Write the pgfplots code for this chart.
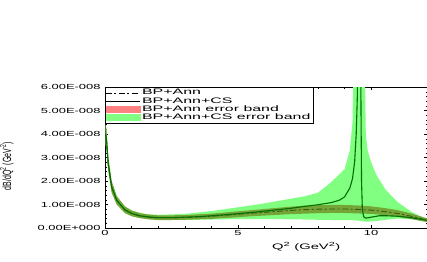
\documentclass[border=0pt]{standalone}
\usepackage{fontspec}
\usepackage{pgfplots}
\pgfplotsset{compat=1.18}
\usepackage{pgfplotstable}
\usepgfplotslibrary{fillbetween}
\newfontfamily\tickfont{Liberation Sans}[FakeStretch=1.75]
\newfontfamily\legfont{Liberation Sans}[FakeStretch=2.0]
\newfontfamily\labfont{Liberation Sans}[FakeStretch=1.85]
\newfontfamily\plainfont{Liberation Sans}
\definecolor{bandgreen}{RGB}{128,255,128}
\definecolor{bandred}{RGB}{255,128,128}
\definecolor{bandolive}{RGB}{115,165,55}
\definecolor{csline}{RGB}{0,110,0}
\definecolor{annline}{RGB}{55,90,20}

% y values in units of 1E-008 GeV^-2
\pgfplotstableread{
x y lo hi
0.02 4.00 3.55 4.45
0.06 3.70 3.30 4.10
0.12 2.75 2.45 3.05
0.25 1.75 1.50 2.00
0.44 1.18 1.00 1.36
0.75 0.77 0.63 0.92
1.0 0.62 0.50 0.75
1.3 0.52 0.42 0.63
1.7 0.46 0.36 0.56
2.0 0.44 0.34 0.54
2.5 0.44 0.34 0.54
3.0 0.45 0.35 0.55
3.5 0.47 0.37 0.58
4.0 0.50 0.39 0.61
4.7 0.56 0.44 0.68
5.5 0.63 0.50 0.76
6.0 0.67 0.53 0.81
6.5 0.71 0.56 0.86
7.0 0.75 0.59 0.91
7.5 0.78 0.61 0.95
8.0 0.80 0.63 0.97
8.5 0.81 0.64 0.98
9.0 0.81 0.64 0.98
9.5 0.79 0.62 0.96
10.0 0.76 0.60 0.92
10.5 0.70 0.55 0.85
11.0 0.62 0.48 0.76
11.5 0.50 0.38 0.62
12.1 0.33 0.25 0.41
}\ann

\pgfplotstableread{
x y
0.02 4.00
0.06 3.70
0.12 2.75
0.25 1.75
0.44 1.18
0.75 0.77
1.0 0.62
1.3 0.52
1.7 0.46
2.0 0.44
2.5 0.44
3.0 0.46
3.5 0.48
4.0 0.52
4.7 0.58
5.5 0.66
6.0 0.72
6.5 0.78
7.0 0.84
7.5 0.92
8.0 0.99
8.5 1.08
8.8 1.18
9.0 1.32
9.2 1.70
9.3 2.10
9.38 2.80
9.44 4.00
9.48 5.50
9.52 9.00
9.60 9.00
9.62 5.00
9.64 2.00
9.67 0.80
9.72 0.48
9.80 0.42
10.0 0.46
10.3 0.52
10.6 0.52
11.0 0.50
11.5 0.44
12.1 0.33
}\cs

\pgfplotstableread{
x lo hi
0.02 3.60 4.40
0.06 3.40 4.20
0.12 2.50 3.00
0.25 1.55 1.95
0.44 1.03 1.33
0.75 0.65 0.90
1.0 0.52 0.74
1.5 0.40 0.60
2.0 0.35 0.56
3.0 0.34 0.60
4.0 0.36 0.72
5.0 0.38 0.88
6.0 0.38 1.05
7.0 0.37 1.25
7.5 0.36 1.35
8.0 0.35 1.50
8.5 0.34 1.95
9.0 0.33 2.50
9.2 0.33 3.30
9.3 0.33 4.50
9.36 0.33 8.00
9.75 0.28 8.00
9.80 0.27 4.00
9.87 0.27 3.30
10.0 0.28 2.80
10.2 0.30 2.25
10.55 0.35 1.62
11.0 0.40 1.10
11.5 0.38 0.70
12.1 0.28 0.36
}\csband

\begin{document}
\begin{tikzpicture}
\begin{axis}[
  scale only axis,
  width=322bp, height=141bp,
  at={(105bp,34bp)}, anchor=south west,
  xmin=0, xmax=12.1, ymin=0, ymax=6,
  xtick={0,5,10}, xticklabels={0,5,10},
  ytick={0,1,2,3,4,5,6},
  yticklabels={0.00E+000,1.00E-008,2.00E-008,3.00E-008,4.00E-008,5.00E-008,6.00E-008},
  minor x tick num=4, minor y tick num=4,
  tick align=inside,
  major tick length=3bp, minor tick length=1.5bp,
  tick style={black, line width=0.4pt},
  axis line style={line width=0.5pt},
  ticklabel style={font=\tickfont\fontsize{7.4}{8}\selectfont},
  xticklabel style={yshift=1bp},
  yticklabel style={xshift=-1bp},
  xlabel={Q\textsuperscript{2} (GeV\textsuperscript{2})},
  xlabel style={font=\labfont\fontsize{8}{9}\selectfont, at={(axis description cs:0.625,0)}, anchor=north, yshift=-11bp},
  ylabel={\scalebox{1}[1.7]{\plainfont\fontsize{7}{8}\selectfont dB/dQ\textsuperscript{2} (GeV\textsuperscript{-2})}},
  ylabel style={at={(axis description cs:-0.305,0.44)}, anchor=center},
  legend style={at={(rel axis cs:0,1)}, anchor=north west, draw=black, line width=0.4pt,
    font=\legfont\fontsize{8}{8}\selectfont, inner sep=0.3bp, row sep=-3bp,
    cells={anchor=west}},
  legend cell align=left,
]
\addplot[name path=gl, draw=none, forget plot] table[x=x,y=lo]{\csband};
\addplot[name path=gh, draw=none, forget plot] table[x=x,y=hi]{\csband};
\addplot[fill=bandgreen, draw=none, forget plot] fill between[of=gl and gh];
\addplot[name path=rl, draw=none, forget plot] table[x=x,y=lo]{\ann};
\addplot[name path=rh, draw=none, forget plot] table[x=x,y=hi]{\ann};
\addplot[fill=bandolive, draw=none, forget plot] fill between[of=rl and rh];
\addplot[annline, line width=0.9pt, dash pattern=on 6bp off 2.5bp on 2bp off 2.5bp, forget plot] table[x=x,y=y]{\ann};
\addplot[csline, line width=1.1pt, forget plot] table[x=x,y=y]{\cs};

\addlegendimage{legend image code/.code={\draw[black, line width=0.6pt, dash pattern=on 6bp off 2.5bp on 2bp off 2.5bp] (0bp,0bp) -- (34bp,0bp);}}
\addlegendentry{BP+Ann}
\addlegendimage{legend image code/.code={\draw[black, line width=0.6pt] (0bp,0bp) -- (34bp,0bp);}}
\addlegendentry{BP+Ann+CS}
\addlegendimage{legend image code/.code={\fill[bandred] (0bp,-3.2bp) rectangle (34bp,3.2bp);}}
\addlegendentry{BP+Ann error band}
\addlegendimage{legend image code/.code={\fill[bandgreen] (0bp,-3.2bp) rectangle (34bp,3.2bp);}}
\addlegendentry{BP+Ann+CS error band}
\end{axis}
\pgfresetboundingbox
\path[use as bounding box] (0,0) rectangle (427bp,262bp);
\end{tikzpicture}
\end{document}
